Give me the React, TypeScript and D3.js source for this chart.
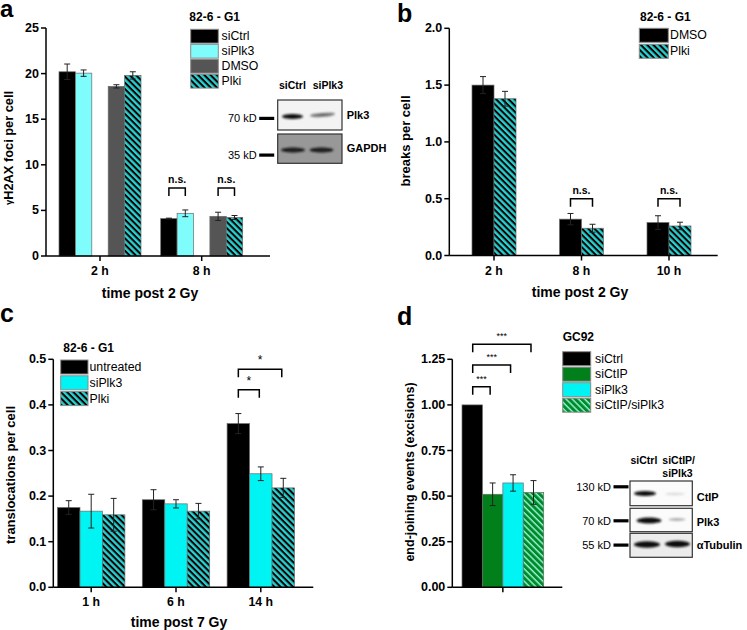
import React from 'react';
import * as d3 from 'd3';

const FONT = "'Liberation Sans', Arial, Helvetica, sans-serif";

// ---------- Panel a ----------
const aGroups = ['2 h', '8 h'];
const aSeries = ['siCtrl', 'siPlk3', 'DMSO', 'Plki'];
const aValues = [[20.2, 4.1], [20.05, 4.68], [18.6, 4.35], [19.8, 4.22]];
const aErrors = [[0.85, 0.05], [0.35, 0.37], [0.18, 0.45], [0.4, 0.22]];
const aTicks = [0, 5, 10, 15, 20, 25];
const aBrackets = [
  { group: '8 h', from: 'siCtrl', to: 'siPlk3', label: 'n.s.', level: 7.45 },
  { group: '8 h', from: 'DMSO', to: 'Plki', label: 'n.s.', level: 7.45 },
];

// ---------- Panel b ----------
const bGroups = ['2 h', '8 h', '10 h'];
const bSeries = ['DMSO', 'Plki'];
const bValues = [[1.5, 0.32, 0.29], [1.38, 0.24, 0.26]];
const bErrors = [[0.075, 0.05, 0.06], [0.065, 0.035, 0.033]];
const bTicks = [0, 0.5, 1.0, 1.5, 2.0];
const bBrackets = [
  { group: '8 h', from: 'DMSO', to: 'Plki', label: 'n.s.', level: 0.5 },
  { group: '10 h', from: 'DMSO', to: 'Plki', label: 'n.s.', level: 0.5 },
];

// ---------- Panel c ----------
const cGroups = ['1 h', '6 h', '14 h'];
const cSeries = ['untreated', 'siPlk3', 'Plki'];
const cValues = [[0.175, 0.192, 0.359], [0.167, 0.183, 0.249], [0.159, 0.167, 0.218]];
const cErrors = [[0.015, 0.022, 0.022], [0.037, 0.009, 0.015], [0.036, 0.017, 0.021]];
const cTicks = [0, 0.1, 0.2, 0.3, 0.4, 0.5];
const cBrackets = [
  { group: '14 h', from: 'untreated', to: 'siPlk3', label: '*', level: 0.433 },
  { group: '14 h', from: 'untreated', to: 'Plki', label: '*', level: 0.478 },
];

// ---------- Panel d ----------
const dSeries = ['siCtrl', 'siCtIP', 'siPlk3', 'siCtIP/siPlk3'];
const dValues = [1.0, 0.51, 0.572, 0.52];
const dErrors = [0, 0.062, 0.045, 0.065];
const dTicks = [0, 0.25, 0.5, 0.75, 1.0, 1.25];
const dBrackets = [
  { from: 'siCtrl', to: 'siCtIP', label: '***', level: 1.1 },
  { from: 'siCtrl', to: 'siPlk3', label: '***', level: 1.219 },
  { from: 'siCtrl', to: 'siCtIP/siPlk3', label: '***', level: 1.332 },
];

// ---------- styles ----------
const fills: Record<string, string> = {
  siCtrl: '#000000',
  siPlk3: '#7ffcfc',
  DMSO: '#555555',
  Plki: 'url(#hatchCyan)',
  untreated: '#000000',
  siCtIP: '#007f1a',
  'siCtIP/siPlk3': 'url(#hatchGreen)',
};
const fillsC: Record<string, string> = { ...fills, siPlk3: '#00f4f4' };
const fillsD: Record<string, string> = { ...fills, siPlk3: '#00f4f4' };
const fillsB: Record<string, string> = { ...fills, DMSO: '#000000' };

type Scale = d3.ScaleLinear<number, number>;

function YAxis({ x, y, ticks, fmt }: { x: number; y: Scale; ticks: number[]; fmt: (n: number) => string }) {
  const [r0, r1] = y.range();
  return (
    <g>
      <line x1={x} x2={x} y1={r0} y2={r1} stroke="#000" strokeWidth={1.5} />
      {ticks.map((t) => (
        <g key={t}>
          <line x1={x - 5} x2={x} y1={y(t)} y2={y(t)} stroke="#000" strokeWidth={1.5} />
          <text x={x - 7} y={y(t)} textAnchor="end" dominantBaseline="central" fontSize={12.5} fontWeight="bold">
            {fmt(t)}
          </text>
        </g>
      ))}
    </g>
  );
}

function XAxis({ x0, x1, y0, ticks }: { x0: number; x1: number; y0: number; ticks: { pos: number; label: string }[] }) {
  return (
    <g>
      <line x1={x0} x2={x1} y1={y0} y2={y0} stroke="#000" strokeWidth={1.5} />
      {ticks.map((t, i) => (
        <g key={i}>
          <line x1={t.pos} x2={t.pos} y1={y0} y2={y0 + 5} stroke="#000" strokeWidth={1.5} />
          {t.label && (
            <text x={t.pos} y={y0 + 15} textAnchor="middle" dominantBaseline="central" fontSize={12.3} fontWeight="bold">
              {t.label}
            </text>
          )}
        </g>
      ))}
    </g>
  );
}

function Bar({ x, w, v, e, y, fill }: { x: number; w: number; v: number; e: number; y: Scale; fill: string }) {
  const cx = x + w / 2;
  return (
    <g>
      <rect x={x} y={y(v)} width={w} height={y(0) - y(v)} fill={fill} stroke="#6b6b6b" strokeWidth={0.7} />
      {e > 0 && (
        <g stroke="#222" strokeWidth={1}>
          <line x1={cx} x2={cx} y1={y(v + e)} y2={y(v - e)} />
          <line x1={cx - 3} x2={cx + 3} y1={y(v + e)} y2={y(v + e)} />
          <line x1={cx - 3} x2={cx + 3} y1={y(v - e)} y2={y(v - e)} />
        </g>
      )}
    </g>
  );
}

function Bracket({ x1, x2, yTop, label, fs, bold }: { x1: number; x2: number; yTop: number; label: string; fs: number; bold?: boolean }) {
  return (
    <g>
      <path d={`M${x1},${yTop + 8}V${yTop}H${x2}V${yTop + 8}`} fill="none" stroke="#000" strokeWidth={1.5} />
      <text x={(x1 + x2) / 2} y={yTop - 5} textAnchor="middle" fontSize={fs} fontWeight={bold ? 'bold' : 'normal'}>
        {label}
      </text>
    </g>
  );
}

function Legend({ x, y0, w, h, pitch, items, fillMap, title, titleY, titleX, tx }: any) {
  return (
    <g>
      <text x={titleX} y={titleY} dominantBaseline="central" fontSize={12} fontWeight="bold">{title}</text>
      {items.map((s: string, i: number) => (
        <g key={s}>
          <rect x={x} y={y0 + i * pitch} width={w} height={h} fill={fillMap[s]} stroke="#8a8a8a" strokeWidth={1} />
          <text x={tx} y={y0 + i * pitch + h / 2} dominantBaseline="central" fontSize={12.3}>{s}</text>
        </g>
      ))}
    </g>
  );
}

function Band({ cx, cy, rx, ry, fill, rot = 0 }: any) {
  return <ellipse cx={cx} cy={cy} rx={rx} ry={ry} fill={fill} filter="url(#blotBlur)" transform={`rotate(${rot},${cx},${cy})`} />;
}

function Marker({ x, y, label }: { x: number; y: number; label: string }) {
  return (
    <g>
      <text x={x} y={y} textAnchor="end" dominantBaseline="central" fontSize={11}>{label}</text>
      <rect x={x + 2.5} y={y - 1.5} width={15} height={3.2} fill="#000" />
    </g>
  );
}

export default function App() {
  const ayA = d3.scaleLinear().domain([0, 25]).range([256, 28]);
  const axA = d3.scaleBand<string>().domain(aGroups).range([49.15, 252.55]).padding(0);
  const inA = d3.scaleBand<string>().domain(['siCtrl', 'siPlk3', '', 'DMSO', 'Plki']).range([-41, 41]).padding(0);
  const cA = (g: string) => (axA(g) as number) + axA.bandwidth() / 2;

  const yB = d3.scaleLinear().domain([0, 2]).range([255.5, 28.3]);
  const xB = d3.scaleBand<string>().domain(bGroups).range([450.25, 712.75]).padding(0);
  const inB = d3.scaleBand<string>().domain(bSeries).range([-22, 22]).padding(0);
  const cB = (g: string) => (xB(g) as number) + xB.bandwidth() / 2;

  const yC = d3.scaleLinear().domain([0, 0.5]).range([587.3, 359.3]);
  const xC = d3.scaleBand<string>().domain(cGroups).range([48.8, 303.2]).padding(0);
  const inC = d3.scaleBand<string>().domain(cSeries).range([-33.7, 33.7]).padding(0);
  const cC = (g: string) => (xC(g) as number) + xC.bandwidth() / 2;

  const yD = d3.scaleLinear().domain([0, 1.25]).range([587.3, 359.3]);
  const xD = d3.scaleBand<string>().domain(dSeries).range([462, 543.7]).padding(0);

  const f1 = d3.format('.1f');
  const f2 = d3.format('.2f');
  const f0 = d3.format('d');

  return (
    <svg width={747} height={630} style={{ position: 'absolute', left: 0, top: 0, background: '#fff' }} fontFamily={FONT}>
      <defs>
        <pattern id="hatchCyan" patternUnits="userSpaceOnUse" width={4.4} height={4.4} patternTransform="rotate(45)">
          <rect width={4.4} height={4.4} fill="#2ccfcf" />
          <rect width={4.4} height={2} fill="#000" />
        </pattern>
        <pattern id="hatchGreen" patternUnits="userSpaceOnUse" width={4.4} height={4.4} patternTransform="rotate(45)">
          <rect width={4.4} height={4.4} fill="#008a2e" />
          <rect width={4.4} height={1.4} fill="#9af5d0" />
        </pattern>
        <filter id="blotBlur" x="-30%" y="-100%" width="160%" height="300%">
          <feGaussianBlur stdDeviation={1} />
        </filter>
      </defs>
      <rect width={747} height={630} fill="#fff" />

      {/* ===== Panel a ===== */}
      <text x={0} y={17} fontSize={24} fontWeight="bold">a</text>
      {aSeries.map((s, si) =>
        aGroups.map((g, gi) => (
          <Bar key={s + g} x={cA(g) + (inA(s) as number)} w={inA.bandwidth()} v={aValues[si][gi]} e={aErrors[si][gi]} y={ayA} fill={fills[s]} />
        ))
      )}
      <YAxis x={46} y={ayA} ticks={aTicks} fmt={f0} />
      <XAxis x0={46} x1={270} y0={256} ticks={aGroups.map((g) => ({ pos: cA(g), label: g }))} />
      {aBrackets.map((b, i) => (
        <Bracket key={i} x1={cA(b.group) + (inA(b.from) as number) + inA.bandwidth() / 2} x2={cA(b.group) + (inA(b.to) as number) + inA.bandwidth() / 2} yTop={ayA(b.level)} label={b.label} fs={10.5} bold />
      ))}
      <text transform="translate(8,148) rotate(-90)" textAnchor="middle" dominantBaseline="central" fontSize={12.8} fontWeight="bold">
        <tspan fontSize={9.5}>γ</tspan>H2AX foci per cell
      </text>
      <text x={150} y={293} textAnchor="middle" dominantBaseline="central" fontSize={14} fontWeight="bold">time post 2 Gy</text>
      <Legend x={190.7} y0={29.3} w={27.6} h={13.8} pitch={15} items={aSeries} fillMap={fills} title="82-6 - G1" titleX={189.3} titleY={16.7} tx={221.5} />

      {/* Blot a */}
      <text x={279} y={84.5} dominantBaseline="central" fontSize={10.5} fontWeight="bold">siCtrl</text>
      <text x={312.7} y={84.5} dominantBaseline="central" fontSize={10.5} fontWeight="bold">siPlk3</text>
      <rect x={277.7} y={100} width={64.3} height={30} fill="#f3f3f3" stroke="#333" strokeWidth={1.2} />
      <rect x={277.7} y={134} width={64.3} height={29.3} fill="#989898" stroke="#333" strokeWidth={1.2} />
      <Band cx={292.5} cy={116.5} rx={10.5} ry={2.6} fill="#111" />
      <Band cx={322.5} cy={114.8} rx={12.5} ry={1.9} fill="#6a6a6a" rot={-4} />
      <Band cx={293} cy={150} rx={12} ry={2.6} fill="#1a1a1a" />
      <Band cx={321.5} cy={150} rx={12} ry={2.6} fill="#1a1a1a" />
      <text x={346.7} y={115} dominantBaseline="central" fontSize={11} fontWeight="bold">Plk3</text>
      <text x={346.7} y={148.3} dominantBaseline="central" fontSize={11} fontWeight="bold">GAPDH</text>
      <Marker x={256.7} y={118.3} label="70 kD" />
      <Marker x={256.7} y={155} label="35 kD" />

      {/* ===== Panel b ===== */}
      <text x={397} y={22} fontSize={25} fontWeight="bold">b</text>
      {bSeries.map((s, si) =>
        bGroups.map((g, gi) => (
          <Bar key={s + g} x={cB(g) + (inB(s) as number)} w={inB.bandwidth()} v={bValues[si][gi]} e={bErrors[si][gi]} y={yB} fill={fillsB[s]} />
        ))
      )}
      <YAxis x={449.3} y={yB} ticks={bTicks} fmt={f1} />
      <XAxis x0={449.3} x1={717.7} y0={255.5} ticks={bGroups.map((g) => ({ pos: cB(g), label: g }))} />
      {bBrackets.map((b, i) => (
        <Bracket key={i} x1={cB(b.group) + (inB(b.from) as number) + inB.bandwidth() / 2} x2={cB(b.group) + (inB(b.to) as number) + inB.bandwidth() / 2} yTop={yB(b.level)} label={b.label} fs={10.5} bold />
      ))}
      <text transform="translate(405.5,141) rotate(-90)" textAnchor="middle" dominantBaseline="central" fontSize={13} fontWeight="bold">breaks per cell</text>
      <text x={580} y={291.7} textAnchor="middle" dominantBaseline="central" fontSize={14} fontWeight="bold">time post 2 Gy</text>
      <Legend x={639.3} y0={28.3} w={29} h={14} pitch={16} items={bSeries} fillMap={fillsB} title="82-6 - G1" titleX={640} titleY={17.3} tx={670} />

      {/* ===== Panel c ===== */}
      <text x={0} y={322} fontSize={25} fontWeight="bold">c</text>
      {cSeries.map((s, si) =>
        cGroups.map((g, gi) => (
          <Bar key={s + g} x={cC(g) + (inC(s) as number)} w={inC.bandwidth()} v={cValues[si][gi]} e={cErrors[si][gi]} y={yC} fill={fillsC[s]} />
        ))
      )}
      <YAxis x={53.3} y={yC} ticks={cTicks} fmt={f1} />
      <XAxis x0={53.3} x1={313.3} y0={587.3} ticks={cGroups.map((g) => ({ pos: cC(g), label: g }))} />
      {cBrackets.map((b, i) => (
        <Bracket key={i} x1={cC(b.group) + (inC(b.from) as number) + inC.bandwidth() / 2} x2={cC(b.group) + (inC(b.to) as number) + inC.bandwidth() / 2 - 1.5} yTop={yC(b.level)} label={b.label} fs={12} />
      ))}
      <text transform="translate(10,475) rotate(-90)" textAnchor="middle" dominantBaseline="central" fontSize={13} fontWeight="bold">translocations per cell</text>
      <text x={179} y={621.7} textAnchor="middle" dominantBaseline="central" fontSize={14} fontWeight="bold">time post 7 Gy</text>
      <Legend x={60.7} y0={360} w={27.3} h={14} pitch={15.8} items={cSeries} fillMap={fillsC} title="82-6 - G1" titleX={63.3} titleY={347.5} tx={89.5} />

      {/* ===== Panel d ===== */}
      <text x={397} y={325} fontSize={25} fontWeight="bold">d</text>
      {dSeries.map((s, si) => (
        <Bar key={s} x={xD(s) as number} w={xD.bandwidth()} v={dValues[si]} e={dErrors[si]} y={yD} fill={fillsD[s]} />
      ))}
      <YAxis x={452.3} y={yD} ticks={dTicks} fmt={f2} />
      <XAxis x0={452.3} x1={562.3} y0={587.3} ticks={[{ pos: ((xD(dSeries[0]) as number) + (xD(dSeries[3]) as number) + xD.bandwidth()) / 2, label: '' }]} />
      {dBrackets.map((b, i) => (
        <Bracket key={i} x1={(xD(b.from) as number) + xD.bandwidth() / 2 + 0.5} x2={(xD(b.to) as number) + xD.bandwidth() / 2 - 2.5} yTop={yD(b.level)} label={b.label} fs={9} />
      ))}
      <text transform="translate(410,472) rotate(-90)" textAnchor="middle" dominantBaseline="central" fontSize={12.5} fontWeight="bold">end-joining events (excisions)</text>
      <Legend x={562.7} y0={351.7} w={28} h={14} pitch={15.5} items={dSeries} fillMap={fillsD} title="GC92" titleX={562.7} titleY={336.7} tx={595} />

      {/* Blot d */}
      <text x={630.5} y={460} dominantBaseline="central" fontSize={10.5} fontWeight="bold">siCtrl</text>
      <text x={662.3} y={460} dominantBaseline="central" fontSize={10.5} fontWeight="bold">siCtIP/</text>
      <text x={662.3} y={473.3} dominantBaseline="central" fontSize={10.5} fontWeight="bold">siPlk3</text>
      <rect x={630} y={481} width={62.3} height={24.7} fill="#fbfbfb" stroke="#333" strokeWidth={1.2} />
      <rect x={630} y={508.3} width={62.3} height={23.4} fill="#fbfbfb" stroke="#333" strokeWidth={1.2} />
      <rect x={630} y={533.3} width={62.3} height={24} fill="#ececec" stroke="#333" strokeWidth={1.2} />
      <Band cx={645} cy={493.5} rx={11} ry={2.6} fill="#111" />
      <Band cx={675} cy={494} rx={10} ry={1.4} fill="#dedede" />
      <Band cx={649} cy={520.5} rx={12.5} ry={3} fill="#111" />
      <Band cx={677} cy={519.5} rx={8.5} ry={1.5} fill="#b0b0b0" />
      <Band cx={647} cy={544.5} rx={13} ry={3.3} fill="#111" />
      <Band cx={677.5} cy={544} rx={12.5} ry={3.3} fill="#111" />
      <text x={696.7} y={497.3} dominantBaseline="central" fontSize={11} fontWeight="bold">CtIP</text>
      <text x={696.7} y={521.7} dominantBaseline="central" fontSize={11} fontWeight="bold">Plk3</text>
      <text x={696.7} y={545} dominantBaseline="central" fontSize={11} fontWeight="bold">αTubulin</text>
      <Marker x={611} y={486.7} label="130 kD" />
      <Marker x={611} y={520.7} label="70 kD" />
      <Marker x={611} y={545} label="55 kD" />
    </svg>
  );
}
